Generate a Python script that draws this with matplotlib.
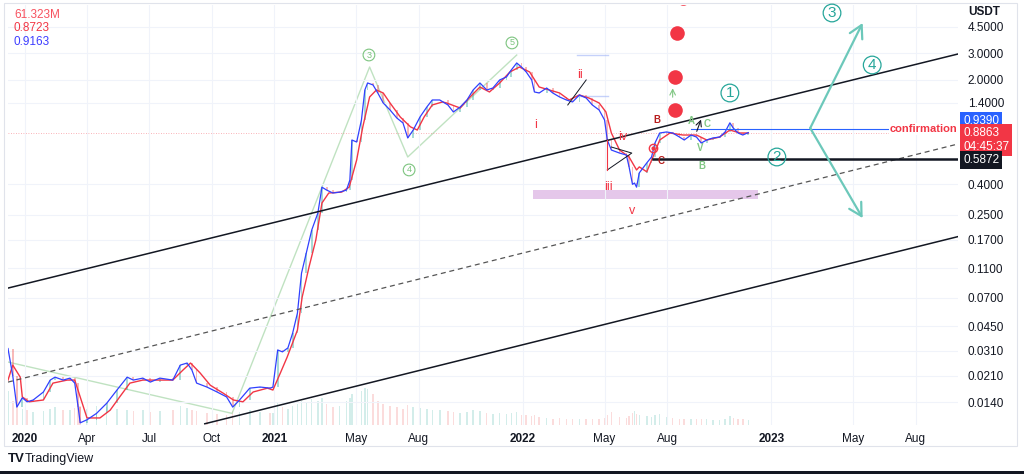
import matplotlib
matplotlib.use("Agg")
import matplotlib.pyplot as plt
from matplotlib.patches import Rectangle
from matplotlib.ticker import NullLocator
import pandas as pd

plt.rcParams['font.family'] = ['Liberation Sans', 'DejaVu Sans']

# ---------------- data ----------------
price_dates = [
    "2019-12-07", "2019-12-14", "2019-12-20", "2019-12-28", "2020-01-04",
    "2020-01-13", "2020-01-28", "2020-02-07", "2020-02-14", "2020-02-26",
    "2020-03-07", "2020-03-14", "2020-03-19", "2020-03-22", "2020-04-01",
    "2020-04-15", "2020-04-30", "2020-05-15", "2020-05-30", "2020-06-08",
    "2020-06-22", "2020-07-03", "2020-07-17", "2020-08-05", "2020-08-16",
    "2020-08-26", "2020-09-02", "2020-09-09", "2020-09-24", "2020-10-09",
    "2020-10-23", "2020-11-01", "2020-11-11", "2020-11-26", "2020-12-11",
    "2020-12-26", "2020-12-30", "2021-01-06", "2021-01-13", "2021-01-21",
    "2021-01-28", "2021-02-04", "2021-02-10", "2021-02-17", "2021-02-25",
    "2021-03-06", "2021-03-12", "2021-03-19", "2021-03-28", "2021-04-07",
    "2021-04-17", "2021-04-22", "2021-04-25", "2021-05-02", "2021-05-09",
    "2021-05-14", "2021-05-18", "2021-05-26", "2021-06-02", "2021-06-10",
    "2021-06-20", "2021-06-30", "2021-07-09", "2021-07-16", "2021-07-24",
    "2021-08-03", "2021-08-13", "2021-08-21", "2021-09-01", "2021-09-13",
    "2021-09-21", "2021-10-01", "2021-10-11", "2021-10-20", "2021-10-30",
    "2021-11-09", "2021-11-18", "2021-11-28", "2021-12-08", "2021-12-15",
    "2021-12-23", "2021-12-30", "2022-01-06", "2022-01-14", "2022-01-18",
    "2022-01-25", "2022-02-05", "2022-02-14", "2022-02-24", "2022-03-06",
    "2022-03-15", "2022-03-25", "2022-04-04", "2022-04-13", "2022-04-23",
    "2022-05-01", "2022-05-05", "2022-05-11", "2022-05-23", "2022-06-02",
    "2022-06-06", "2022-06-11", "2022-06-14", "2022-06-17", "2022-06-21",
    "2022-07-02", "2022-07-09", "2022-07-14", "2022-07-21", "2022-07-31",
    "2022-08-09", "2022-08-19", "2022-08-26", "2022-09-05", "2022-09-13",
    "2022-09-20", "2022-09-28", "2022-10-07", "2022-10-17", "2022-10-25",
    "2022-11-01", "2022-11-06", "2022-11-13", "2022-11-20", "2022-11-28",
]
price_close = [
    0.032, 0.021, 0.0130, 0.0150, 0.0141,
    0.0145, 0.0164, 0.0197, 0.0206, 0.0197,
    0.0203, 0.0188, 0.0130, 0.0102, 0.0107,
    0.0118, 0.0138, 0.0169, 0.0206, 0.0197,
    0.0203, 0.0191, 0.0203, 0.0197, 0.0248,
    0.0256, 0.0230, 0.0188, 0.0177, 0.0164,
    0.0152, 0.0130, 0.0145, 0.0174, 0.0177,
    0.0174, 0.0177, 0.0313, 0.0304, 0.0323,
    0.0406, 0.0552, 0.102, 0.139, 0.198,
    0.257, 0.383, 0.366, 0.350, 0.355,
    0.366, 0.427, 0.791, 0.767, 1.076,
    1.707, 1.902, 1.845, 1.630, 1.398,
    1.255, 1.109, 1.028, 0.816, 0.922,
    1.127, 1.314, 1.464, 1.464, 1.356,
    1.217, 1.314, 1.464, 1.707, 1.902,
    1.707, 1.760, 1.992, 2.086, 2.322,
    2.587, 2.431, 2.252, 1.992, 1.656,
    1.630, 1.760, 1.630, 1.533, 1.464,
    1.420, 1.581, 1.509, 1.356, 1.255,
    1.076, 0.791, 0.678, 0.647, 0.628,
    0.523, 0.400, 0.408, 0.383, 0.477,
    0.556, 0.609, 0.755, 0.881, 0.895,
    0.881, 0.828, 0.791, 0.854, 0.828,
    0.755, 0.791, 0.816, 0.828, 0.895,
    1.030, 0.951, 0.881, 0.854, 0.886,
]
volume_m = [
    420, 300, 240, 200, 180,
    160, 170, 200, 220, 180,
    190, 210, 260, 240, 200,
    230, 220, 200, 190, 170,
    180, 160, 170, 180, 230,
    210, 180, 170, 150, 140,
    130, 170, 160, 190, 160,
    150, 150, 280, 220, 200,
    240, 260, 300, 280, 320,
    300, 340, 260, 220, 240,
    300, 330, 380, 360, 420,
    460, 440, 380, 300, 260,
    240, 220, 200, 250, 220,
    210, 200, 190, 180, 170,
    160, 150, 160, 180, 170,
    150, 140, 150, 140, 150,
    160, 130, 120, 110, 130,
    100, 90, 80, 90, 70,
    70, 80, 70, 70, 80,
    90, 120, 160, 100, 90,
    110, 150, 170, 140, 130,
    110, 100, 130, 140, 100,
    90, 80, 80, 70, 70,
    80, 70, 60, 60, 70,
    110, 90, 80, 70, 61.323,
]
ma_dates = [
    "2019-12-07", "2019-12-14", "2019-12-25", "2019-12-28", "2020-01-07",
    "2020-01-28", "2020-02-11", "2020-03-03", "2020-03-14", "2020-03-25",
    "2020-04-01", "2020-04-20", "2020-05-05", "2020-05-19", "2020-06-03",
    "2020-06-22", "2020-07-17", "2020-08-05", "2020-08-20", "2020-08-31",
    "2020-09-14", "2020-09-29", "2020-10-18", "2020-11-02", "2020-11-16",
    "2020-12-01", "2020-12-22", "2020-12-30", "2021-01-10", "2021-01-20",
    "2021-02-04", "2021-02-11", "2021-02-21", "2021-03-03", "2021-03-12",
    "2021-03-22", "2021-04-10", "2021-04-21", "2021-05-02", "2021-05-11",
    "2021-05-21", "2021-05-31", "2021-06-10", "2021-06-20", "2021-07-05",
    "2021-07-20", "2021-07-30", "2021-08-09", "2021-08-21", "2021-09-05",
    "2021-09-11", "2021-10-01", "2021-10-14", "2021-10-30", "2021-11-13",
    "2021-11-28", "2021-12-13", "2021-12-27", "2022-01-11", "2022-01-25",
    "2022-02-09", "2022-02-24", "2022-03-10", "2022-03-25", "2022-04-08",
    "2022-04-23", "2022-05-03", "2022-05-11", "2022-05-23", "2022-06-06",
    "2022-06-17", "2022-06-21", "2022-07-02", "2022-07-11", "2022-07-21",
    "2022-08-05", "2022-08-24", "2022-09-13", "2022-09-28", "2022-10-17",
    "2022-11-01", "2022-11-16", "2022-11-28",
]
ma_values = [
    0.0197, 0.0248, 0.0206, 0.0152, 0.0141,
    0.0145, 0.0188, 0.0197, 0.0197, 0.0138,
    0.0110, 0.0110, 0.0124, 0.0152, 0.0188,
    0.0197, 0.0197, 0.0197, 0.0230, 0.0256,
    0.0220, 0.0182, 0.0161, 0.0145, 0.0141,
    0.0164, 0.0174, 0.0169, 0.0220, 0.0281,
    0.0425, 0.0707, 0.112, 0.170, 0.300,
    0.350, 0.355, 0.383, 0.582, 0.968,
    1.533, 1.707, 1.630, 1.398, 1.127,
    0.968, 0.922, 1.127, 1.356, 1.420,
    1.398, 1.294, 1.509, 1.787, 1.656,
    1.902, 2.252, 2.431, 2.252, 1.787,
    1.707, 1.630, 1.464, 1.581, 1.509,
    1.398, 1.217, 0.881, 0.678, 0.609,
    0.499, 0.523, 0.485, 0.609, 0.791,
    0.881, 0.854, 0.854, 0.791, 0.828,
    0.922, 0.881, 0.881,
]

price_ticks = [4.5, 3.0, 2.0, 1.4, 0.4, 0.25, 0.17, 0.11, 0.07, 0.045, 0.031, 0.021, 0.014]
date_ticks = ["2020-01-01", "2020-04-01", "2020-07-01", "2020-10-01", "2021-01-01",
              "2021-05-01", "2021-08-01", "2022-01-01", "2022-05-01", "2022-08-01",
              "2023-01-01", "2023-05-01", "2023-08-01"]
date_labels = ["2020", "Apr", "Jul", "Oct", "2021", "May", "Aug", "2022", "May",
               "Aug", "2023", "May", "Aug"]

# drawings (anchor points in date / price)
channel_upper = (["2019-12-07", "2023-10-02"], [0.0811, 2.970])
channel_mid = (["2019-12-07", "2023-10-02"], [0.0191, 0.744])
channel_lower = (["2020-09-21", "2023-10-02"], [0.01006, 0.179])
wave_dates = ["2019-12-07", "2020-10-31", "2021-05-21", "2021-07-16", "2021-12-23"]
wave_prices = [0.0260, 0.0118, 2.431, 0.609, 2.924]
target_dots_dates = ["2022-08-12", "2022-08-13", "2022-08-16", "2022-08-24"]
target_dots_prices = [1.255, 2.086, 4.10, 7.03]
zone_dates = ["2022-01-16", "2022-12-12"]
zone_low, zone_high = 0.320, 0.366
confirmation_level = 0.9390
support_level = 0.5872
last_price = 0.8863
projection_mid = ("2023-02-27", 0.951)
projection_up = ("2023-05-15", 4.785)
projection_down = ("2023-05-15", 0.238)

# ---------------- figure ----------------
W, H = 1024, 474
fig = plt.figure(figsize=(W / 100, H / 100), dpi=100)
fig.patch.set_facecolor('white')


def fx(px):
    return px / W


def fy(py):
    return 1 - py / H


pos = [fx(8), fy(425), (958 - 8) / W, (425 - 5) / H]
ax = fig.add_axes(pos)
axv = ax.twinx()
ax.set_zorder(axv.get_zorder() + 1)
ax.patch.set_visible(False)

T = pd.to_datetime
pdates = T(price_dates)
xlim = (T("2019-12-07"), T("2023-10-02"))

# volume
vcols = []
for i, c in enumerate(price_close):
    up = i == 0 or c >= price_close[i - 1]
    vcols.append('#26a69a' if up else '#ef5350')
axv.bar(pdates, volume_m, width=2.2, color=vcols, alpha=0.2, lw=0)
axv.set_ylim(0, 5200)
axv.set_yticks([])
for s in axv.spines.values():
    s.set_visible(False)

ax.set_yscale('log')
ax.set_ylim(0.00987, 6.31)
ax.set_xlim(*xlim)

# candle bodies between consecutive closes
for i in range(1, min(len(pdates), len(price_close))):
    o, c = price_close[i - 1], price_close[i]
    col = '#26a69a' if c >= o else '#ef5350'
    ax.bar(pdates[i], abs(c - o), bottom=min(o, c), width=2.5, color=col,
           alpha=0.4, lw=0, zorder=2)

# moving averages
ax.plot(T(ma_dates), ma_values, color='#f23645', lw=1.0, zorder=3)
ax.plot(pdates, price_close, color='#3040ff', lw=0.9, zorder=4)

# channel
ax.plot(T(channel_upper[0]), channel_upper[1], color='#131722', lw=1.1, zorder=5)
ax.plot(T(channel_lower[0]), channel_lower[1], color='#131722', lw=1.1, zorder=5)
ax.plot(T(channel_mid[0]), channel_mid[1], color='#555555', lw=0.9,
        ls=(0, (4, 3)), zorder=5)

# wave lines
ax.plot(T(wave_dates), wave_prices, color='#a5d6a7', lw=1.0, alpha=0.7, zorder=1)

# zone
ax.fill_between(T(zone_dates), zone_low, zone_high, color='#e1bee7', lw=0,
                alpha=0.85, zorder=1)

# horizontal levels
ax.axhline(last_price, color='#f23645', lw=0.6, ls=(0, (1, 2)), alpha=0.5, zorder=1)
ax.plot([T("2022-09-05"), xlim[1]], [confirmation_level] * 2, color='#2962ff',
        lw=0.8, zorder=5)
ax.plot([T("2022-07-11"), xlim[1]], [support_level] * 2, color='#131722',
        lw=1.8, zorder=5)
for lvl in (2.924, 1.556):
    ax.plot([T("2022-03-21"), T("2022-05-06")], [lvl, lvl], color='#9fb3f7',
            lw=1.0, alpha=0.6, zorder=2)

ax.text(T("2023-06-24"), confirmation_level, "confirmation", color='#f23645',
        fontsize=8, fontweight='bold', va='center', ha='left', zorder=6,
        bbox=dict(fc='white', ec='none', pad=1.0))

# target dots
ax.plot(T(target_dots_dates), target_dots_prices, 'o', ms=10.5, color='#f23645',
        mec='none', zorder=6)
ax.annotate('', xy=(T("2022-08-09"), 1.83), xytext=(T("2022-08-09"), 1.464),
            arrowprops=dict(arrowstyle='->', color='#81c784', lw=0.8), zorder=6)

# small drawings
ax.plot([T("2022-03-08"), T("2022-04-04")], [1.356, 1.992], color='#131722', lw=0.7, zorder=6)
ax.plot([T("2022-05-05"), T("2022-06-10"), T("2022-05-11")], [0.499, 0.647, 0.710],
        color='#131722', lw=0.7, zorder=6)
ax.plot([T("2022-05-05"), T("2022-05-05")], [0.499, 0.791], color='#f23645', lw=0.8, zorder=6)
ax.annotate('', xy=(T("2022-09-21"), 1.127), xytext=(T("2022-09-12"), 0.868),
            arrowprops=dict(arrowstyle='->', color='#131722', lw=0.8), zorder=6)
ax.plot(T("2022-07-11"), 0.699, 'o', ms=6, mfc='none', mec='#f23645', mew=1.0, zorder=7)
ax.plot(T("2022-07-11"), 0.699, 'o', ms=2, color='#f23645', zorder=7)

# projection zigzag
teal = '#6cc8ba'
for end in (projection_up, projection_down):
    ax.annotate('', xy=(T(end[0]), end[1]), xytext=(T(projection_mid[0]), projection_mid[1]),
                arrowprops=dict(arrowstyle='->,head_length=0.9,head_width=0.5',
                                color=teal, lw=1.6, shrinkA=0, shrinkB=0), zorder=6)

# wave labels
green = '#7cc47f'
for lab, d, p in [("3", "2021-05-20", 2.924), ("4", "2021-07-18", 0.499),
                  ("5", "2021-12-16", 3.52)]:
    ax.text(T(d), p, lab, color=green, fontsize=6.5, ha='center', va='center', zorder=7,
            bbox=dict(boxstyle='circle,pad=0.15', fc='none', ec=green, lw=0.8))
for lab, d, p in [("i", "2022-01-19", 0.996), ("ii", "2022-03-26", 2.150),
                  ("iii", "2022-05-06", 0.383), ("iv", "2022-05-27", 0.828),
                  ("v", "2022-06-10", 0.265)]:
    ax.text(T(d), p, lab, color='#f23645', fontsize=9, ha='center', va='center', zorder=7)
for lab, d, p in [("B", "2022-07-17", 1.076), ("C", "2022-07-23", 0.573)]:
    ax.text(T(d), p, lab, color='#b71c1c', fontsize=7, fontweight='bold',
            ha='center', va='center', zorder=7)
for lab, d, p in [("A", "2022-09-05", 1.06), ("C", "2022-09-28", 1.011),
                  ("B", "2022-09-21", 0.529), ("V", "2022-09-18", 0.70)]:
    ax.text(T(d), p, lab, color='#81c784', fontsize=7, fontweight='bold',
            ha='center', va='center', zorder=7)
tealdark = '#26a69a'
for lab, d, p in [("1", "2022-11-01", 1.63), ("2", "2023-01-09", 0.609),
                  ("3", "2023-03-31", 5.58), ("4", "2023-05-29", 2.507)]:
    ax.text(T(d), p, lab, color=tealdark, fontsize=11, ha='center', va='center', zorder=7,
            bbox=dict(boxstyle='circle,pad=0.12', fc='none', ec=tealdark, lw=0.9))

# axes formatting
ax.yaxis.tick_right()
ax.set_yticks(price_ticks)
ax.set_yticklabels([f"{t:.4f}" for t in price_ticks])
ax.yaxis.set_minor_locator(NullLocator())
ax.set_xticks(T(date_ticks))
ax.set_xticklabels(date_labels)
for lbl, txt in zip(ax.get_xticklabels(), date_labels):
    if txt.isdigit():
        lbl.set_fontweight('bold')
ax.tick_params(axis='y', length=0, pad=7, labelsize=8.5, labelcolor='#131722')
ax.tick_params(axis='x', length=0, pad=6, labelsize=8.5, labelcolor='#131722')
ax.grid(True, color='#f0f3fa', lw=0.8, zorder=0)
for s in ax.spines.values():
    s.set_visible(False)

# right-side price labels
fig.text(fx(968), fy(12), "USDT", fontsize=8.5, color='#131722', va='center',
         fontweight='bold')
fig.text(fx(963), fy(121), "0.9390", fontsize=8.5, color='white', va='center',
         bbox=dict(boxstyle='square,pad=0.28', fc='#2962ff', ec='none'))
fig.text(fx(963), fy(140), "0.8863\n04:45:37", fontsize=8.5, color='white', va='center',
         linespacing=1.15, bbox=dict(boxstyle='square,pad=0.28', fc='#f23645', ec='none'))
fig.text(fx(963), fy(160), "0.5872", fontsize=8.5, color='white', va='center',
         bbox=dict(boxstyle='square,pad=0.28', fc='#131722', ec='none'))

# legend values
fig.text(fx(14), fy(15), "61.323M", fontsize=8.5, color='#f7525f', va='center')
fig.text(fx(14), fy(28), "0.8723", fontsize=8.5, color='#f23645', va='center')
fig.text(fx(14), fy(42), "0.9163", fontsize=8.5, color='#3d3dff', va='center')

# frame, logo, bottom bar
fig.add_artist(Rectangle((fx(4), fy(446)), (1017 - 4) / W, (446 - 3) / H,
                         transform=fig.transFigure, fill=False, ec='#e0e3eb', lw=0.8))
fig.text(fx(8), fy(459), "TV", fontsize=9.5, fontweight='heavy', color='#131722', va='center')
fig.text(fx(25), fy(459), "TradingView", fontsize=9, color='#131722', va='center')
fig.add_artist(Rectangle((0, 0), 1, 3 / H, transform=fig.transFigure, fc='#131722', ec='none'))

fig.savefig("out.png", dpi=100)
